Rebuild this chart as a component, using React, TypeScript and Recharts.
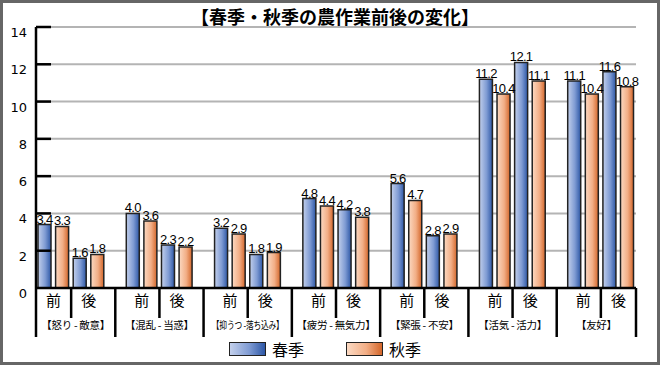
import React from 'react';
import { BarChart, Bar, XAxis, YAxis, CartesianGrid, LabelList, Legend } from 'recharts';

const groups = ['【怒り - 敵意】', '【混乱 - 当惑】', '【抑うつ -落ち込み】', '【疲労 - 無気力】', '【緊張 - 不安】', '【活気 - 活力】', '【友好】'];
const phases = ['前', '後'];
const seriesNames = ['春季', '秋季'];
const springBefore = [3.4, 4.0, 3.2, 4.8, 5.6, 11.2, 11.1];
const autumnBefore = [3.3, 3.6, 2.9, 4.4, 4.7, 10.4, 10.4];
const springAfter = [1.6, 2.3, 1.8, 4.2, 2.8, 12.1, 11.6];
const autumnAfter = [1.8, 2.2, 1.9, 3.8, 2.9, 11.1, 10.8];
const yTicks = [0, 2, 4, 6, 8, 10, 12, 14];
const title = '【春季・秋季の農作業前後の変化】';

const data = groups.map((g, i) => ({
  group: g,
  sb: springBefore[i],
  ab: autumnBefore[i],
  sa: springAfter[i],
  aa: autumnAfter[i],
}));

const W = 660;
const H = 365;
const PLOT_LEFT = 36;
const PLOT_RIGHT = 636;
const PLOT_TOP = 27;
const PLOT_BOTTOM = 288;
const PAD = -9;
const BW = (PLOT_RIGHT - PLOT_LEFT - 2 * PAD) / groups.length;
const BAR = 13;
const GAP = 4.6;

const SPRING_GRAD = 'linear-gradient(to right, #c3d0ec, #7f9bd3 55%, #2d57a6)';
const AUTUMN_GRAD = 'linear-gradient(to right, #fbd9c2, #f2ae86 55%, #d3662a)';

const YTick = (props: any) => {
  const { x, y, payload } = props;
  return (
    <g>
      {payload.value !== 0 && (
        <line x1={x} x2={x + 15} y1={y} y2={y} stroke="#000" strokeWidth={2.5} />
      )}
      <text x={x - 9} y={y + 10} textAnchor="end" fontSize={13} fontFamily="'DejaVu Sans', Verdana, sans-serif" fill="#000">
        {payload.value}
      </text>
    </g>
  );
};

const XTick = (props: any) => {
  const { x, y, payload, index } = props;
  const rawLeft = x - BW / 2;
  const rawRight = x + BW / 2;
  const left = Math.max(rawLeft, PLOT_LEFT);
  const right = Math.min(rawRight, PLOT_RIGHT);
  const sub = (BAR + GAP);
  const isNarrow = index === 2;
  const cx = (left + right) / 2;
  return (
    <g>
      <line x1={left} x2={left} y1={y} y2={y + 49} stroke="#000" strokeWidth={2.5} />
      {index === groups.length - 1 && (
        <line x1={right} x2={right} y1={y} y2={y + 49} stroke="#000" strokeWidth={2.5} />
      )}
      <line x1={x} x2={x} y1={y} y2={y + 30} stroke="#000" strokeWidth={2.5} />
      <text x={x - sub} y={y + 18} textAnchor="middle" fontSize={15} fontFamily="'Noto Sans CJK JP', sans-serif" fill="#000">
        {phases[0]}
      </text>
      <text x={x + sub} y={y + 18} textAnchor="middle" fontSize={15} fontFamily="'Noto Sans CJK JP', sans-serif" fill="#000">
        {phases[1]}
      </text>
      <text
        x={0}
        y={0}
        transform={`translate(${cx},${y + 41}) scale(${isNarrow ? 0.74 : 1},1)`}
        textAnchor="middle"
        fontSize={10.5}
        letterSpacing={-0.3}
        fontFamily="'Noto Sans CJK JP', sans-serif"
        fill="#000"
      >
        {payload.value}
      </text>
    </g>
  );
};

const LegendContent = () => (
  <div style={{ display: 'flex', alignItems: 'center', fontFamily: "'Noto Sans CJK JP', sans-serif", fontSize: 16, color: '#000' }}>
    <div style={{ width: 37, height: 14, boxSizing: 'border-box', border: '1.5px solid #222', background: SPRING_GRAD }} />
    <span style={{ marginLeft: 6, lineHeight: '18px' }}>{seriesNames[0]}</span>
    <div style={{ width: 37, height: 14, marginLeft: 42, boxSizing: 'border-box', border: '1.5px solid #222', background: AUTUMN_GRAD }} />
    <span style={{ marginLeft: 6, lineHeight: '18px' }}>{seriesNames[1]}</span>
  </div>
);

const labelFmt = (v: any) => Number(v).toFixed(1);
const labelStyle = { fontSize: 13, fontFamily: "'Liberation Sans', Arial, sans-serif", letterSpacing: -0.7, fill: '#000' } as any;

export default function App() {
  const series = [
    { key: 'sb', grad: 'url(#gSpring)' },
    { key: 'ab', grad: 'url(#gAutumn)' },
    { key: 'sa', grad: 'url(#gSpring)' },
    { key: 'aa', grad: 'url(#gAutumn)' },
  ];
  return (
    <div style={{ position: 'relative', width: W, height: H, background: '#fff' }}>
      <style>{'body{margin:0}'}</style>
      <div
        style={{
          position: 'absolute',
          left: 0,
          top: 6,
          width: W,
          textAlign: 'center',
          fontFamily: "'Noto Sans CJK JP', sans-serif",
          fontWeight: 700,
          fontSize: 18,
          lineHeight: '20px',
          color: '#000',
          paddingLeft: 10,
          boxSizing: 'border-box',
          zIndex: 2,
        }}
      >
        {title}
      </div>
      <div style={{ position: 'absolute', left: 0, top: 0 }}>
        <BarChart
          width={W}
          height={H}
          data={data}
          margin={{ top: PLOT_TOP, right: W - PLOT_RIGHT, left: 0, bottom: 0 }}
          barSize={BAR}
          barGap={GAP}
        >
          <defs>
            <linearGradient id="gSpring" x1="0" y1="0" x2="1" y2="0">
              <stop offset="0%" stopColor="#c3d0ec" />
              <stop offset="55%" stopColor="#7f9bd3" />
              <stop offset="100%" stopColor="#2d57a6" />
            </linearGradient>
            <linearGradient id="gAutumn" x1="0" y1="0" x2="1" y2="0">
              <stop offset="0%" stopColor="#fbd9c2" />
              <stop offset="55%" stopColor="#f2ae86" />
              <stop offset="100%" stopColor="#d3662a" />
            </linearGradient>
          </defs>
          <CartesianGrid horizontal vertical={false} stroke="#b4b4b4" strokeWidth={2} />
          <XAxis
            dataKey="group"
            height={H - PLOT_BOTTOM}
            padding={{ left: PAD, right: PAD }}
            interval={0}
            tickSize={0}
            tickMargin={0}
            tickLine={false}
            axisLine={{ stroke: '#000', strokeWidth: 2.5 }}
            tick={<XTick />}
          />
          <YAxis
            width={PLOT_LEFT}
            domain={[0, 14]}
            ticks={yTicks}
            interval={0}
            tickSize={0}
            tickMargin={0}
            tickLine={false}
            axisLine={{ stroke: '#000', strokeWidth: 2.5 }}
            tick={<YTick />}
          />
          <Legend
            verticalAlign="middle"
            align="center"
            layout="horizontal"
            content={<LegendContent />}
            wrapperStyle={{ top: 340, left: 229, width: 220, height: 18 }}
          />
          {series.map((s) => (
            <Bar key={s.key} dataKey={s.key} fill={s.grad} stroke="#222" strokeWidth={1.5} isAnimationActive={false}>
              <LabelList dataKey={s.key} position="top" offset={1} formatter={labelFmt} style={labelStyle} />
            </Bar>
          ))}
        </BarChart>
      </div>
      <div
        style={{
          position: 'absolute',
          left: 0,
          top: 0,
          width: W,
          height: H,
          boxSizing: 'border-box',
          border: '3px solid #666',
          pointerEvents: 'none',
        }}
      />
    </div>
  );
}
